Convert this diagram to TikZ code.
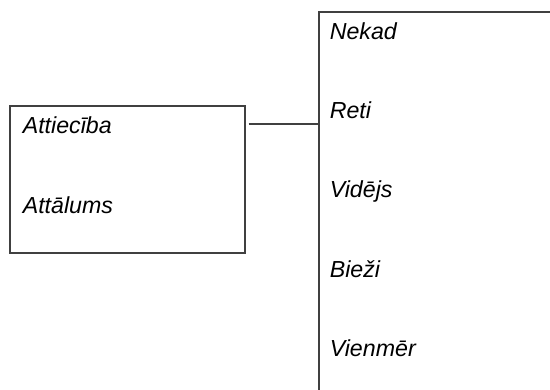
\documentclass[tikz,border=0pt]{standalone}
\usepackage{fontspec}
\setmainfont{Liberation Sans}
\begin{document}
\begin{tikzpicture}[x=0.02cm, y=-0.02cm, line width=0.9pt,
	box/.style={draw=black!75, anchor=north west, inner sep=0pt},
	lbl/.style={anchor=base west, inner sep=0pt, font=\fontsize{13.2}{15}\selectfont\itshape}]
	\useasboundingbox (0,0) rectangle (550,389);
	\clip (0,0) rectangle (550,389);
	% boxes
	\node[box, minimum width=4.7cm, minimum height=2.94cm] (tabula) at (9,105) {};
	\node[box, minimum width=6cm, minimum height=8.4cm] (skala) at (318,11) {};
	% left box
	\node[lbl] (attieciba) at (22,133) {Attiecība};
	\node[lbl] (attalums) at (22,213) {Attālums};
	% right box
	\node[lbl] (nekad) at (329,39) {Nekad};
	\node[lbl] (reti) at (329,118) {Reti};
	\node[lbl] (videjs) at (329,197) {Vidējs};
	\node[lbl] (biezi) at (329,277) {Bieži};
	\node[lbl] (vienmer) at (329,356) {Vienmēr};
	% link
	\coordinate (saite) at (247,124);
	\draw[black!75, shorten <=3*0.02cm] (tabula.east |- saite) -- (skala.west |- saite);
\end{tikzpicture}
\end{document}
